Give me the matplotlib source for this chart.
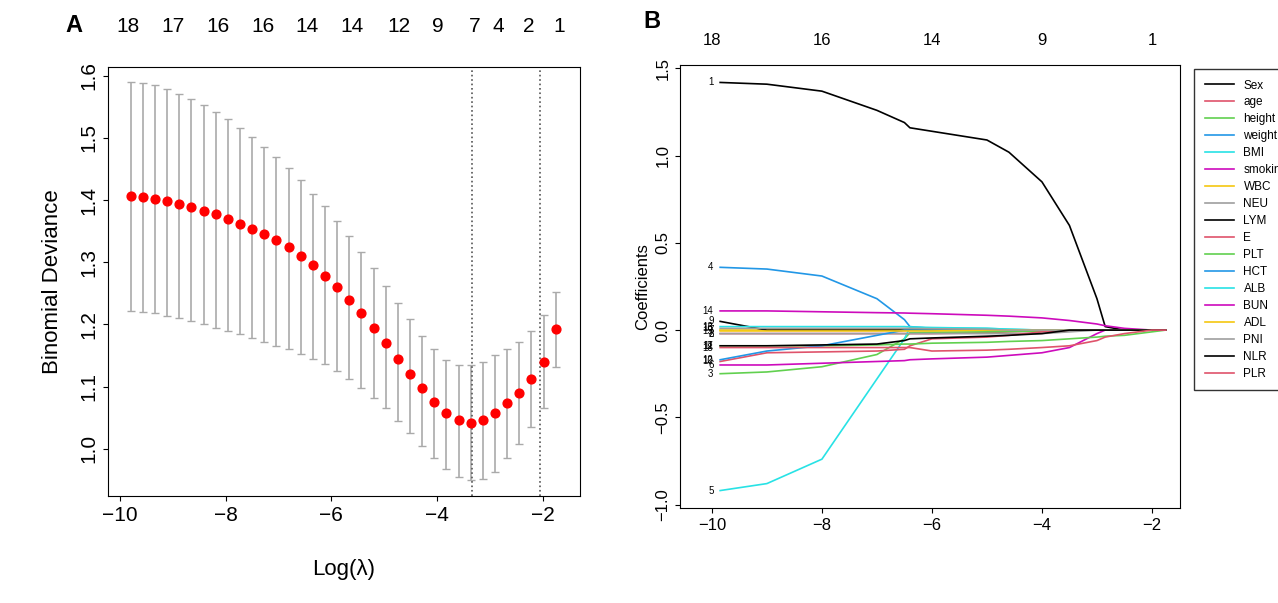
import numpy as np
import matplotlib.pyplot as plt

# Panel A: cross-validation curve
log_lambda = np.linspace(-9.8, -1.75, 36)
cv_mean = [1.407, 1.405, 1.402, 1.398, 1.394, 1.389, 1.383, 1.377, 1.370, 1.362, 1.354, 1.345,
           1.336, 1.324, 1.310, 1.295, 1.278, 1.260, 1.240, 1.218, 1.195, 1.170, 1.145, 1.120,
           1.097, 1.075, 1.058, 1.047, 1.042, 1.047, 1.058, 1.073, 1.090, 1.112, 1.140, 1.192]
cv_upper = [1.590, 1.589, 1.585, 1.578, 1.570, 1.562, 1.553, 1.542, 1.530, 1.516, 1.502, 1.486,
            1.470, 1.452, 1.432, 1.410, 1.390, 1.367, 1.342, 1.316, 1.290, 1.262, 1.235, 1.208,
            1.182, 1.160, 1.142, 1.135, 1.135, 1.140, 1.150, 1.160, 1.172, 1.190, 1.215, 1.252]
cv_lower = [1.222, 1.220, 1.218, 1.214, 1.210, 1.205, 1.200, 1.195, 1.190, 1.184, 1.178, 1.172,
            1.166, 1.160, 1.153, 1.145, 1.136, 1.125, 1.112, 1.098, 1.082, 1.065, 1.045, 1.025,
            1.005, 0.985, 0.968, 0.955, 0.950, 0.952, 0.962, 0.985, 1.008, 1.035, 1.065, 1.132]
lambda_min, lambda_1se = -3.33, -2.04
top_pos_a = [-9.85, -8.99, -8.15, -7.30, -6.46, -5.61, -4.72, -3.98, -3.29, -2.84, -2.27, -1.69]
top_lab_a = ["18", "17", "16", "16", "14", "14", "12", "9", "7", "4", "2", "1"]

# Panel B: coefficient paths
path_x = [-9.85, -9, -8, -7, -6.5, -6.4, -6, -5, -4.6, -4, -3.5, -3, -2.85, -2.5, -2, -1.75]
variables = ["Sex", "age", "height", "weight", "BMI", "smoking", "WBC", "NEU", "LYM",
             "E", "PLT", "HCT", "ALB", "BUN", "ADL", "PNI", "NLR", "PLR"]
coefs = {
    "Sex":     [1.42, 1.41, 1.37, 1.26, 1.19, 1.16, 1.14, 1.09, 1.02, 0.85, 0.60, 0.18, 0.02, 0, 0, 0],
    "age":     [-0.02, -0.02, -0.02, -0.02, -0.02, -0.02, -0.02, -0.015, -0.01, -0.005, 0, 0, 0, 0, 0, 0],
    "height":  [-0.25, -0.24, -0.21, -0.14, -0.05, -0.015, -0.012, -0.01, -0.008, -0.005, -0.002, 0, 0, 0, 0, 0],
    "weight":  [0.36, 0.35, 0.31, 0.18, 0.06, 0.02, 0.01, 0, 0, 0, 0, 0, 0, 0, 0, 0],
    "BMI":     [-0.92, -0.88, -0.74, -0.28, -0.05, 0.015, 0.012, 0.01, 0.005, 0, 0, 0, 0, 0, 0, 0],
    "smoking": [-0.20, -0.20, -0.19, -0.18, -0.175, -0.17, -0.165, -0.155, -0.145, -0.13, -0.10, -0.02, 0, 0, 0, 0],
    "WBC":     [0, 0, 0, 0, 0, 0, 0, 0, 0, 0, 0, 0, 0, 0, 0, 0],
    "NEU":     [-0.02, -0.02, -0.02, -0.02, -0.02, -0.02, -0.02, -0.02, -0.02, -0.02, -0.01, 0, 0, 0, 0, 0],
    "LYM":     [0.05, 0.0, 0.0, 0.0, 0.0, 0.0, 0.0, 0, 0, 0, 0, 0, 0, 0, 0, 0],
    "E":       [-0.18, -0.13, -0.125, -0.12, -0.11, -0.09, -0.05, -0.04, -0.03, -0.01, 0, 0, 0, 0, 0, 0],
    "PLT":     [-0.09, -0.09, -0.09, -0.085, -0.08, -0.08, -0.075, -0.07, -0.065, -0.06, -0.05, -0.04, -0.035, -0.03, -0.01, 0],
    "HCT":     [-0.17, -0.12, -0.09, -0.03, 0.0, 0.0, 0.0, 0, 0, 0, 0, 0, 0, 0, 0, 0],
    "ALB":     [0.02, 0.02, 0.02, 0.02, 0.02, 0.018, 0.015, 0.01, 0.005, 0, 0, 0, 0, 0, 0, 0],
    "BUN":     [0.11, 0.11, 0.105, 0.10, 0.098, 0.097, 0.094, 0.085, 0.08, 0.07, 0.055, 0.035, 0.025, 0.01, 0, 0],
    "ADL":     [-0.005, -0.005, -0.005, -0.005, -0.005, -0.005, -0.005, 0, 0, 0, 0, 0, 0, 0, 0, 0],
    "PNI":     [0.01, 0.01, 0.01, 0.01, 0.01, 0.01, 0.008, 0.005, 0, 0, 0, 0, 0, 0, 0, 0],
    "NLR":     [-0.09, -0.09, -0.085, -0.08, -0.06, -0.05, -0.045, -0.035, -0.03, -0.02, 0, 0, 0, 0, 0, 0],
    "PLR":     [-0.10, -0.10, -0.10, -0.10, -0.10, -0.10, -0.12, -0.115, -0.11, -0.10, -0.09, -0.06, -0.04, -0.02, 0, 0],
}
top_pos_b = [-10, -8, -6, -4, -2]
top_lab_b = ["18", "16", "14", "9", "1"]
palette = ["black", "#DF536B", "#61D04F", "#2297E6", "#28E2E5", "#CD0BBC", "#F5C710", "#9E9E9E"]

plt.rcParams["font.family"] = ["Liberation Sans", "DejaVu Sans"]
fig = plt.figure(figsize=(12.78, 6.03), dpi=100)

# ---- A ----
ax = fig.add_axes([108 / 1278, 1 - 496 / 603, 472 / 1278, 429 / 603])
m = np.array(cv_mean)
ax.errorbar(log_lambda, m, yerr=[m - np.array(cv_lower), np.array(cv_upper) - m],
            fmt="none", ecolor="#AAAAAA", elinewidth=1.2, capsize=3)
ax.scatter(log_lambda, m, color="red", s=40, zorder=3)
ax.axvline(lambda_min, color="#555555", ls=":", lw=1.2)
ax.axvline(lambda_1se, color="#555555", ls=":", lw=1.2)
ax.set_xlim(-10.23, -1.29)
ax.set_ylim(0.924, 1.614)
ax.set_xticks([-10, -8, -6, -4, -2])
ax.set_yticks([1.0, 1.1, 1.2, 1.3, 1.4, 1.5, 1.6])
ax.tick_params(labelsize=15)
for lab in ax.get_yticklabels():
    lab.set_rotation(90)
    lab.set_va("center")
ax.set_xlabel("Log(λ)", fontsize=16, labelpad=25)
ax.set_ylabel("Binomial Deviance", fontsize=16, labelpad=12)
top = ax.secondary_xaxis("top")
top.set_xticks(top_pos_a, top_lab_a)
top.tick_params(length=0, labelsize=15, pad=22)
top.spines["top"].set_visible(False)
fig.text(65 / 1278, 1 - 25 / 603, "A", fontsize=17, fontweight="bold", va="center")

# ---- B ----
bx = fig.add_axes([680 / 1278, 1 - 508 / 603, 500 / 1278, 443 / 603])
for i, name in enumerate(variables):
    c = palette[i % 8]
    bx.plot(path_x, coefs[name], color=c, lw=1.2, label=name)
    bx.text(path_x[0] - 0.12, coefs[name][0], str(i + 1), fontsize=7, ha="right", va="center")
bx.set_xlim(-10.58, -1.49)
bx.set_ylim(-1.02, 1.52)
bx.set_xticks([-10, -8, -6, -4, -2])
bx.set_yticks([-1.0, -0.5, 0.0, 0.5, 1.0, 1.5])
bx.set_yticklabels(["−1.0", "−0.5", "0.0", "0.5", "1.0", "1.5"])
bx.tick_params(labelsize=12)
for lab in bx.get_yticklabels():
    lab.set_rotation(90)
    lab.set_va("center")
bx.set_ylabel("Coefficients", fontsize=12)
topb = bx.secondary_xaxis("top")
topb.set_xticks(top_pos_b, top_lab_b)
topb.tick_params(length=0, labelsize=12, pad=12)
topb.spines["top"].set_visible(False)
fig.text(643 / 1278, 1 - 22 / 603, "B", fontsize=17, fontweight="bold", va="center")

fig.legend(loc="upper left", bbox_to_anchor=(1188 / 1278, 1 - 63 / 603), fontsize=8.5,
           frameon=True, fancybox=False, edgecolor="black", handlelength=2.5,
           labelspacing=0.42, borderpad=0.9)

fig.savefig("out.png", dpi=100)
